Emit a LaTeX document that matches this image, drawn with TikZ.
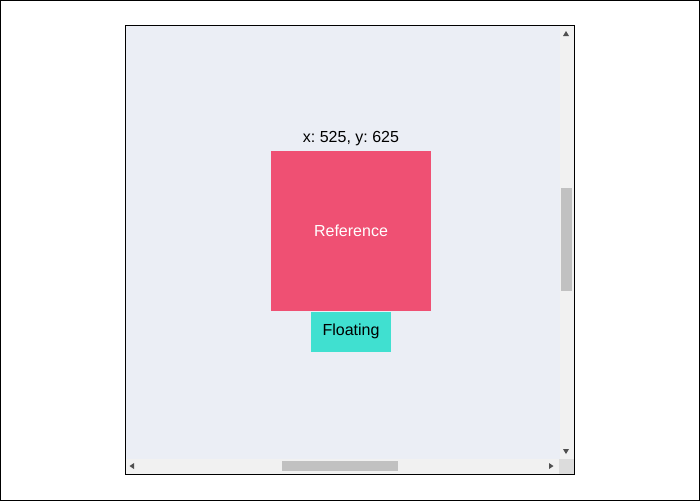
\documentclass[tikz,border=0pt]{standalone}
\usepackage{fontspec}
\setmainfont{Liberation Sans}
\usepackage{tikz}
\usetikzlibrary{positioning}
\definecolor{PanelBg}{HTML}{EBEEF5}
\definecolor{RefRed}{HTML}{EF5073}
\definecolor{FloatTeal}{HTML}{40E0D0}
\definecolor{TrackGray}{HTML}{F1F1F1}
\definecolor{ThumbGray}{HTML}{C1C1C1}
\definecolor{CornerGray}{HTML}{DCDCDC}
\definecolor{ArrowGray}{HTML}{505050}
\tikzset{
  refbox/.style={fill=RefRed,draw=none,minimum width=160*0.75pt,minimum height=160*0.75pt,
    inner sep=0pt,text=white,font=\fontsize{12}{14}\selectfont},
  floatbox/.style={fill=FloatTeal,draw=none,minimum width=80*0.75pt,minimum height=40*0.75pt,
    inner sep=0pt,text=black,font=\fontsize{12}{14}\selectfont},
  coordlabel/.style={inner sep=0pt,font=\fontsize{12}{14}\selectfont},
  track/.style={fill=TrackGray,draw=none},
  thumb/.style={fill=ThumbGray,draw=none},
  tip/.style={fill=ArrowGray,draw=none}
}

\begin{document}
\begin{tikzpicture}[x=0.75pt,y=-0.75pt]
  \useasboundingbox (0,0) rectangle (700,501);
  \draw[black,line width=0.75pt] (0.5,0.5) rectangle (699.5,500.5);

  % scroll container
  \fill[PanelBg] (125,25) rectangle (575,475);
  \fill[track] (560,26) rectangle (574,459);
  \fill[thumb] (561,188) rectangle (572,291);
  \fill[track] (126,459) rectangle (560,474);
  \fill[thumb] (282,461) rectangle (398,471);
  \fill[CornerGray] (559,459) rectangle (574,474);
  \fill[tip] (563,36) -- (569,36) -- (566,31) -- cycle;
  \fill[tip] (563,449) -- (569,449) -- (566,454) -- cycle;
  \fill[tip] (134,463) -- (134,469) -- (129.5,466) -- cycle;
  \fill[tip] (549,463) -- (549,469) -- (553.5,466) -- cycle;
  \draw[black,line width=0.75pt] (125.5,25.5) rectangle (574.5,474.5);

  \node[refbox] (reference) at (351,231) {Reference};
  \node[floatbox,below=0pt of reference] (floating) {Floating};
  \node[coordlabel,above=5*0.75pt of reference] (position) {x:\ 525,\ y:\ 625};

\end{tikzpicture}
\end{document}
